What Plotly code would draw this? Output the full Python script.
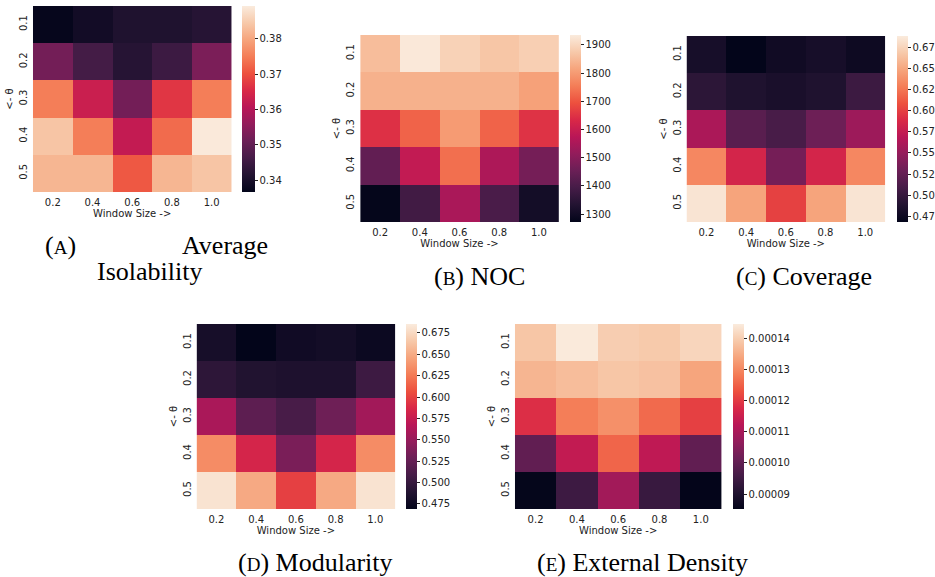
import plotly.graph_objects as go

W, H = 935, 577

window_sizes = ["0.2", "0.4", "0.6", "0.8", "1.0"]
thetas = ["0.1", "0.2", "0.3", "0.4", "0.5"]

isolability = [
    [0.337, 0.339, 0.341, 0.341, 0.342],
    [0.352, 0.346, 0.342, 0.345, 0.353],
    [0.375, 0.363, 0.352, 0.367, 0.375],
    [0.384, 0.375, 0.362, 0.373, 0.389],
    [0.382, 0.382, 0.371, 0.382, 0.384],
]
noc = [
    [1855, 1930, 1890, 1870, 1885],
    [1835, 1835, 1835, 1835, 1810],
    [1645, 1720, 1800, 1720, 1650],
    [1440, 1590, 1735, 1555, 1470],
    [1275, 1385, 1550, 1400, 1305],
]
coverage = [
    [0.481, 0.468, 0.477, 0.481, 0.475],
    [0.494, 0.486, 0.483, 0.486, 0.503],
    [0.561, 0.519, 0.510, 0.530, 0.554],
    [0.634, 0.585, 0.534, 0.585, 0.634],
    [0.685, 0.649, 0.601, 0.649, 0.685],
]
modularity = [
    [0.482, 0.469, 0.478, 0.480, 0.475],
    [0.495, 0.488, 0.486, 0.486, 0.504],
    [0.560, 0.521, 0.510, 0.530, 0.556],
    [0.634, 0.584, 0.536, 0.584, 0.634],
    [0.681, 0.649, 0.599, 0.649, 0.681],
]
ext_density = [
    [1.386e-4, 1.443e-4, 1.398e-4, 1.392e-4, 1.410e-4],
    [1.362e-4, 1.374e-4, 1.386e-4, 1.380e-4, 1.338e-4],
    [1.184e-4, 1.285e-4, 1.309e-4, 1.261e-4, 1.208e-4],
    [1.000e-4, 1.137e-4, 1.255e-4, 1.131e-4, 1.000e-4],
    [0.855e-4, 0.947e-4, 1.090e-4, 0.940e-4, 0.853e-4],
]

rocket_hex = ["#03051a", "#221331", "#451c47", "#6a1f56", "#921c5b", "#b91657",
              "#d92847", "#ed503e", "#f47d57", "#f6a47c", "#f7c9aa", "#faebdd"]
rocket = [[i / 11, c] for i, c in enumerate(rocket_hex)]

panels = [
    dict(z=isolability, zr=(0.3366, 0.3893), ax=(33, 232), ay=(6, 192), cb=(243, 13),
         tv=[0.34, 0.35, 0.36, 0.37, 0.38], tt=["0.34", "0.35", "0.36", "0.37", "0.38"]),
    dict(z=noc, zr=(1272, 1935), ax=(361, 560), ay=(35, 222), cb=(571, 11),
         tv=[1300, 1400, 1500, 1600, 1700, 1800, 1900], tt=None),
    dict(z=coverage, zr=(0.468, 0.689), ax=(688, 887), ay=(36, 222), cb=(899, 11),
         tv=[0.475, 0.5, 0.525, 0.55, 0.575, 0.6, 0.625, 0.65, 0.675],
         tt=["0.47", "0.50", "0.52", "0.55", "0.57", "0.60", "0.62", "0.65", "0.67"]),
    dict(z=modularity, zr=(0.469, 0.6855), ax=(197, 396), ay=(324, 509), cb=(407, 11),
         tv=[0.475, 0.5, 0.525, 0.55, 0.575, 0.6, 0.625, 0.65, 0.675],
         tt=["0.475", "0.500", "0.525", "0.550", "0.575", "0.600", "0.625", "0.650", "0.675"]),
    dict(z=ext_density, zr=(0.852e-4, 1.445e-4), ax=(516, 723), ay=(324, 509), cb=(735, 11),
         tv=[9e-5, 1e-4, 1.1e-4, 1.2e-4, 1.3e-4, 1.4e-4],
         tt=["0.00009", "0.00010", "0.00011", "0.00012", "0.00013", "0.00014"]),
]

fig = go.Figure()
tickfont = dict(family="DejaVu Sans", size=10, color="#222")

for i, p in enumerate(panels):
    n = "" if i == 0 else str(i + 1)
    y0, y1 = p["ay"]
    cbx, cbw = p["cb"]
    cbar = dict(
        x=cbx / W, xanchor="left", xpad=0,
        y=1 - (y0 + y1) / 2 / H, yanchor="middle", ypad=0,
        lenmode="pixels", len=y1 - y0, thickness=cbw,
        outlinewidth=0, ticks="outside", ticklen=3, tickwidth=1, tickcolor="#222",
        tickvals=p["tv"], tickfont=tickfont,
    )
    if p["tt"] is not None:
        cbar["ticktext"] = p["tt"]
    fig.add_trace(go.Heatmap(
        z=p["z"], x=window_sizes, y=thetas, xaxis="x" + n, yaxis="y" + n,
        colorscale=rocket, zmin=p["zr"][0], zmax=p["zr"][1],
        colorbar=cbar, xgap=0, ygap=0, hoverinfo="z",
    ))
    fig.update_layout(**{
        "xaxis" + n: dict(
            domain=[p["ax"][0] / W, p["ax"][1] / W], anchor="y" + n,
            type="category", showgrid=False, zeroline=False, showline=False,
            ticks="", tickfont=tickfont, ticklabelstandoff=3,
            title=dict(text="Window Size ->", font=tickfont, standoff=2),
        ),
        "yaxis" + n: dict(
            domain=[1 - y1 / H, 1 - y0 / H], anchor="x" + n,
            type="category", autorange="reversed", showgrid=False, zeroline=False,
            showline=False, ticks="", tickangle=-90, tickfont=tickfont,
            ticklabelstandoff=3,
            title=dict(text="<- θ", font=tickfont, standoff=2),
        ),
    })

cap_font = dict(family="Liberation Serif", size=26, color="black")
sc = "<span style='font-size:19px'>%s</span>"
captions = [
    ("(" + sc % "A" + ")", 43, 246, "left"),
    ("Average", 271, 246, "right"),
    ("Isolability", 150, 271, "center"),
    ("(" + sc % "B" + ") NOC", 481, 276, "center"),
    ("(" + sc % "C" + ") Coverage", 806, 276, "center"),
    ("(" + sc % "D" + ") Modularity", 316, 562, "center"),
    ("(" + sc % "E" + ") External Density", 644, 562, "center"),
]
for text, x, y, anchor in captions:
    fig.add_annotation(text=text, x=x / W, y=1 - y / H, xref="paper", yref="paper",
                       xanchor=anchor, yanchor="middle", showarrow=False, font=cap_font)

fig.update_layout(
    width=W, height=H, margin=dict(l=0, r=0, t=0, b=0),
    paper_bgcolor="white", plot_bgcolor="white", showlegend=False,
)

fig.write_html("out.html")
